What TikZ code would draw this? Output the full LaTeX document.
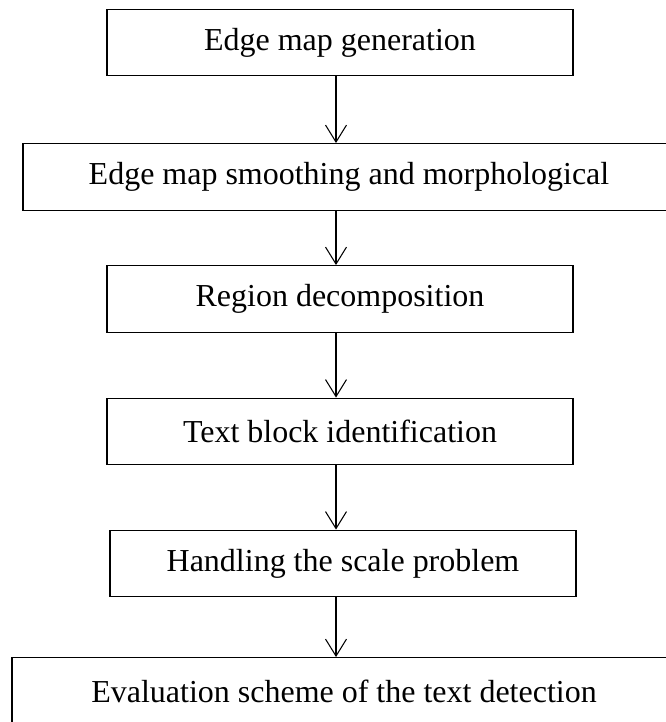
\documentclass[tikz,border=0pt]{standalone}
\usepackage{fontspec}
\setmainfont{Liberation Serif}
\usetikzlibrary{arrows.meta}

\begin{document}
\begin{tikzpicture}[
  stage/.style={draw, line width=0.8pt, minimum height=1.33cm, inner sep=0pt,
    font=\fontsize{18.2}{22}\selectfont},
  flow/.style={-{Straight Barb[length=3.4mm, width=4.2mm]}, line width=0.6pt}
]
\useasboundingbox (0,0) rectangle (13.32,-14.44);
\clip (0,0) rectangle (13.32,-14.44);
\node[stage, minimum width=9.32cm] (gen) at (6.80, -0.85) {Edge map generation};
\node[stage, minimum width=13.04cm] (smooth) at (6.98, -3.54) {Edge map smoothing and morphological};
\node[stage, minimum width=9.32cm] (region) at (6.80, -5.98) {Region decomposition};
\node[stage, minimum width=9.32cm] (block) at (6.80, -8.63) {Text block identification};
\node[stage, minimum width=9.32cm] (scale) at (6.86, -11.27) {Handling the scale problem};
\node[stage, minimum width=13.28cm] (eval) at (6.88, -13.82) {Evaluation scheme of the text detection};
\coordinate (axis) at (6.72, 0);
\draw[flow] (gen.south -| axis) -- (smooth.north -| axis);
\draw[flow] (smooth.south -| axis) -- (region.north -| axis);
\draw[flow] (region.south -| axis) -- (block.north -| axis);
\draw[flow] (block.south -| axis) -- (scale.north -| axis);
\draw[flow] (scale.south -| axis) -- (eval.north -| axis);
\end{tikzpicture}
\end{document}
